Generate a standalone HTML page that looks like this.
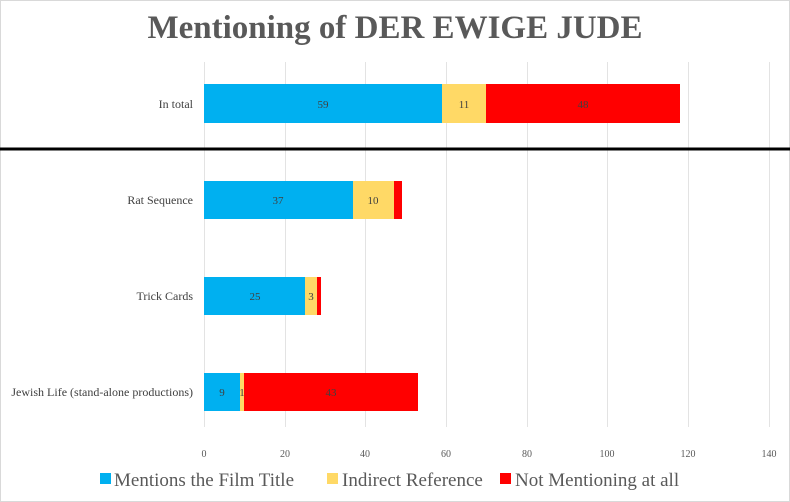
<!DOCTYPE html><html><head><style>body{margin:0;background:#fff}svg{display:block}</style></head><body>
<svg width="790" height="502" xmlns="http://www.w3.org/2000/svg" font-family="Liberation Serif, serif">
<rect x="0.5" y="0.5" width="789" height="501" fill="#fff" stroke="#d9d9d9"/>
<text x="395" y="38" text-anchor="middle" font-size="33" font-weight="bold" fill="#595959">Mentioning of DER EWIGE JUDE</text>
<g stroke="#e3e3e3" stroke-width="1">
<line x1="204.5" y1="62" x2="204.5" y2="427"/><line x1="285.5" y1="62" x2="285.5" y2="427"/><line x1="365.5" y1="62" x2="365.5" y2="427"/><line x1="446.5" y1="62" x2="446.5" y2="427"/><line x1="527.5" y1="62" x2="527.5" y2="427"/><line x1="607.5" y1="62" x2="607.5" y2="427"/><line x1="688.5" y1="62" x2="688.5" y2="427"/><line x1="769.5" y1="62" x2="769.5" y2="427"/>
</g>
<line x1="0" y1="149" x2="790" y2="149" stroke="#000" stroke-width="3"/>
<g>
<rect x="204" y="84" width="238" height="39" fill="#00b0f0"/><rect x="442" y="84" width="44" height="39" fill="#ffd966"/><rect x="486" y="84" width="194" height="39" fill="#ff0000"/>
<rect x="204" y="181" width="149" height="38" fill="#00b0f0"/><rect x="353" y="181" width="41" height="38" fill="#ffd966"/><rect x="394" y="181" width="8" height="38" fill="#ff0000"/>
<rect x="204" y="277" width="101" height="38" fill="#00b0f0"/><rect x="305" y="277" width="12" height="38" fill="#ffd966"/><rect x="317" y="277" width="4" height="38" fill="#ff0000"/>
<rect x="204" y="373" width="36" height="38" fill="#00b0f0"/><rect x="240" y="373" width="4" height="38" fill="#ffd966"/><rect x="244" y="373" width="174" height="38" fill="#ff0000"/>
</g>
<g font-size="11" fill="#404040" text-anchor="middle">
<text x="323" y="108">59</text><text x="464" y="108">11</text><text x="583" y="108">48</text>
<text x="278" y="204">37</text><text x="373" y="204">10</text>
<text x="255" y="300">25</text><text x="311" y="300">3</text>
<text x="222" y="396">9</text><text x="242" y="396">1</text><text x="331" y="396">43</text>
</g>
<g font-size="12" fill="#404040" text-anchor="end">
<text x="193" y="108">In total</text><text x="193" y="204">Rat Sequence</text><text x="193" y="300">Trick Cards</text><text x="193" y="396">Jewish Life (stand-alone productions)</text>
</g>
<g font-size="10" fill="#595959" text-anchor="middle">
<text x="204" y="457">0</text><text x="285" y="457">20</text><text x="365" y="457">40</text><text x="446" y="457">60</text><text x="527" y="457">80</text><text x="607" y="457">100</text><text x="688" y="457">120</text><text x="769" y="457">140</text>
</g>
<g font-size="19" fill="#595959">
<rect x="100" y="473" width="11" height="11" fill="#00b0f0"/><text x="114" y="486">Mentions the Film Title</text>
<rect x="327" y="473" width="11" height="11" fill="#ffd966"/><text x="342" y="486">Indirect Reference</text>
<rect x="500" y="473" width="11" height="11" fill="#ff0000"/><text x="515" y="486">Not Mentioning at all</text>
</g>
</svg>
</body></html>
